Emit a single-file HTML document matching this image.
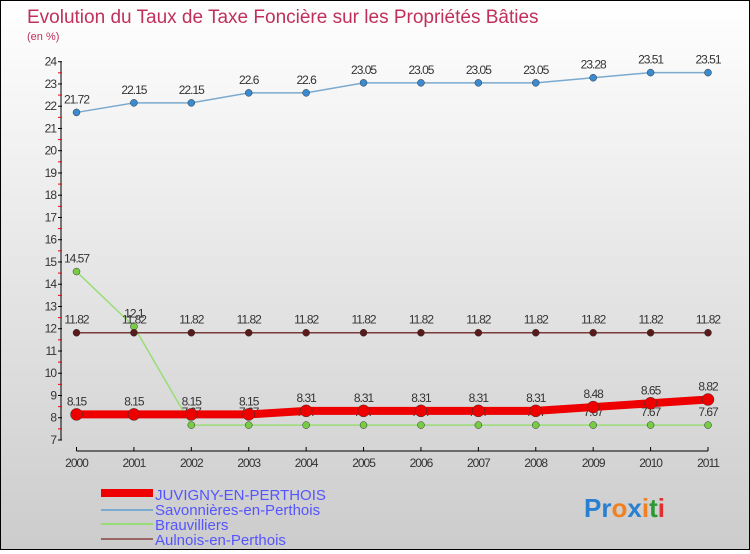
<!DOCTYPE html>
<html><head><meta charset="utf-8"><style>
body{margin:0;width:750px;height:550px;overflow:hidden;font-family:"Liberation Sans",sans-serif}
#c{position:absolute;left:0;top:0;width:748px;height:548px;border:1px solid #000;background:linear-gradient(#fff,#ccc)}
</style></head><body>
<div id="c">
<svg id="s" width="748" height="548" xmlns="http://www.w3.org/2000/svg">
<text x="26" y="22" font-size="19" fill="#c0305a">Evolution du Taux de Taxe Foncière sur les Propriétés Bâties</text>
<text x="26" y="39" font-size="11" fill="#c0305a">(en %)</text>
<g id="axes"></g><g id="series"></g>
<g>
<rect x="100" y="488" width="52" height="8" fill="#e00"/>
<text x="154" y="499" font-size="15" fill="#55f">JUVIGNY-EN-PERTHOIS</text>
<rect x="100" y="508" width="52" height="2" fill="#7aaad0"/>
<text x="154" y="514" font-size="15" fill="#55f">Savonnières-en-Perthois</text>
<rect x="100" y="522" width="52" height="2" fill="#99dd77"/>
<text x="154" y="529" font-size="15" fill="#55f">Brauvilliers</text>
<rect x="100" y="537" width="52" height="2" fill="#996666"/>
<text x="154" y="544" font-size="15" fill="#55f">Aulnois-en-Perthois</text>
</g>
<g font-size="26" font-weight="bold">
<text x="583" y="516"><tspan fill="#2a7fd0">Pr</tspan><tspan fill="#f08020">o</tspan><tspan fill="#2a7fd0">x</tspan><tspan fill="#f08020">i</tspan><tspan fill="#2a9a30">t</tspan><tspan fill="#e03030">i</tspan></text>
</g>
</svg></div>
<script>
const years=[2000,2001,2002,2003,2004,2005,2006,2007,2008,2009,2010,2011];
const juvigny=[8.15,8.15,8.15,8.15,8.31,8.31,8.31,8.31,8.31,8.48,8.65,8.82];
const savonnieres=[21.72,22.15,22.15,22.6,22.6,23.05,23.05,23.05,23.05,23.28,23.51,23.51];
const brauvilliers=[14.57,12.1,7.67,7.67,7.67,7.67,7.67,7.67,7.67,7.67,7.67,7.67];
const aulnois=[11.82,11.82,11.82,11.82,11.82,11.82,11.82,11.82,11.82,11.82,11.82,11.82];
const yTicks=[7,8,9,10,11,12,13,14,15,16,17,18,19,20,21,22,23,24];
const NS="http://www.w3.org/2000/svg";
const x=i=>75.5+i*(707-75.5)/(years.length-1);
const y=v=>439-(v-7)*(439-60.7)/17;
function el(t,a,p){const e=document.createElementNS(NS,t);for(const k in a)e.setAttribute(k,a[k]);p.appendChild(e);return e;}
const ax=document.getElementById('axes');
let l=el('line',{x1:60,y1:y(24),x2:60,y2:y(7),stroke:'#000'},ax);


yTicks.forEach(v=>{
 el('line',{x1:57,x2:61,y1:y(v),y2:y(v),stroke:'#000'},ax);
 if(v<24) el('line',{x1:57,x2:61,y1:y(v+0.5),y2:y(v+0.5),stroke:'#e00'},ax);
 const t=el('text',{x:55,y:y(v)+4,'font-size':12,'text-anchor':'end',fill:'#333','letter-spacing':'-1'},ax);t.textContent=v;
 
 
});
l=el('line',{x1:x(0),x2:x(11),y1:450,y2:450,stroke:'#000'},ax);


years.forEach((yr,i)=>{
 el('line',{x1:x(i),x2:x(i),y1:446,y2:450,stroke:'#000'},ax);
 const t=el('text',{x:x(i),y:466,'font-size':12,'text-anchor':'middle',fill:'#333','letter-spacing':'-1'},ax);t.textContent=yr;
 
 
});
const sg=document.getElementById('series');
function series(data,name,col,w,r,dot){
 const g=el('g',{},sg);
 
 
 const pl=el('polyline',{points:data.map((v,i)=>x(i)+','+y(v)).join(' '),fill:'none',stroke:col,'stroke-width':w},g);
 
 
 data.forEach((v,i)=>{
  const c=el('circle',{cx:x(i),cy:y(v),r:r,fill:dot,stroke:'#333','stroke-width':0.5},g);
  
  
  const t=el('text',{x:x(i),y:y(v)-9,'font-size':12,'text-anchor':'middle',fill:'#333','letter-spacing':'-1'},g);t.textContent=v;
  
  
 });
}
series(savonnieres,'savonnieres','#7aaad0',1.5,3.5,'#3a8ad0');
series(brauvilliers,'brauvilliers','#99dd77',1.5,3.5,'#77cc44');
series(aulnois,'aulnois','#7a3a3a',1.5,3.5,'#5a1a1a');
series(juvigny,'juvigny','#ee0000',8,6,'#ee0000');
</script>
</body></html>
